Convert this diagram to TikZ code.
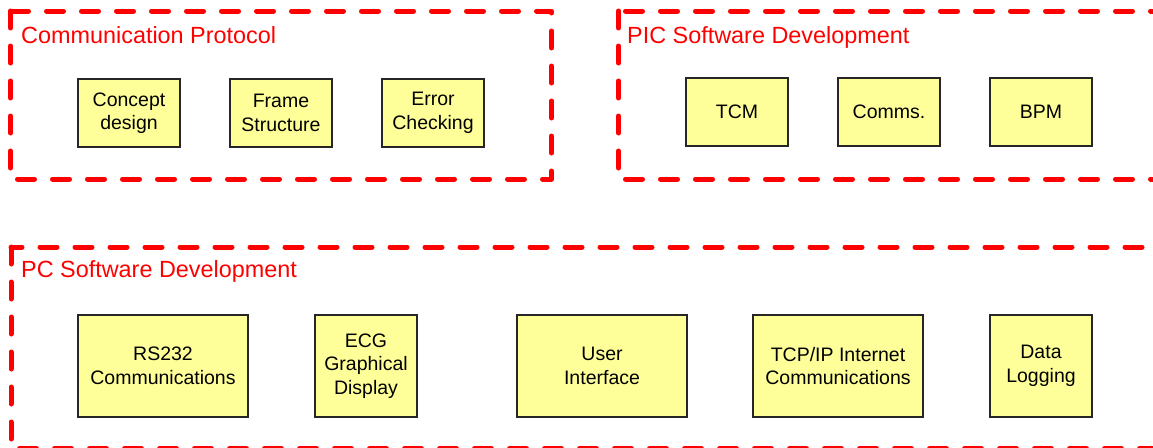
\documentclass[tikz,border=0pt]{standalone}
\usepackage{fontspec}
\setmainfont{Liberation Sans}
\definecolor{taskyellow}{RGB}{255,255,153}
\definecolor{groupred}{RGB}{255,0,0}
\begin{document}
\begin{tikzpicture}[x=1pt,y=-1pt,
  group/.style={draw=groupred, line width=5pt, dash pattern=on 17pt off 18pt,
    line cap=round, line join=round},
  grouptitle/.style={text=groupred, font=\fontsize{23.4}{27}\selectfont,
    anchor=base west, inner sep=0pt},
  task/.style={draw=black!85, line width=1.4pt, fill=taskyellow,
    minimum width=102pt, minimum height=68pt, inner sep=0pt, align=center,
    font=\fontsize{19.5}{23.5}\selectfont},
  tall/.style={minimum height=102pt},
  wide/.style={minimum width=170pt}
]
\useasboundingbox (0,0) rectangle (1153,447);
\clip (0,0) rectangle (1153,447);

% group frames
\draw[group] (10.5,11) rectangle (551.5,179);
\draw[group] (618.5,11) rectangle (1180,179);
\draw[group] (11,247) rectangle (1180,448.5);

% group titles
\node[grouptitle] (protocol) at (21,43) {Communication Protocol};
\node[grouptitle] (pic) at (627,43) {PIC Software Development};
\node[grouptitle] (pc) at (21,277) {PC Software Development};

% communication protocol tasks
\node[task] (concept) at (129,113) {Concept\\design};
\node[task] (frame) at (281,113) {Frame\\Structure};
\node[task] (error) at (433,113) {Error\\Checking};

% PIC software tasks
\node[task] (tcm) at (737,112) {TCM};
\node[task] (comms) at (889,112) {Comms.};
\node[task] (bpm) at (1041,112) {BPM};

% PC software tasks
\node[task,tall,wide] (rs232) at (163,366) {RS232\\Communications};
\node[task,tall] (ecg) at (366,366) {ECG\\Graphical\\Display};
\node[task,tall,wide] (ui) at (602,366) {User\\Interface};
\node[task,tall,wide] (tcpip) at (838,366) {TCP/IP Internet\\Communications};
\node[task,tall] (logging) at (1041,366) {Data\\Logging};
\end{tikzpicture}
\end{document}
